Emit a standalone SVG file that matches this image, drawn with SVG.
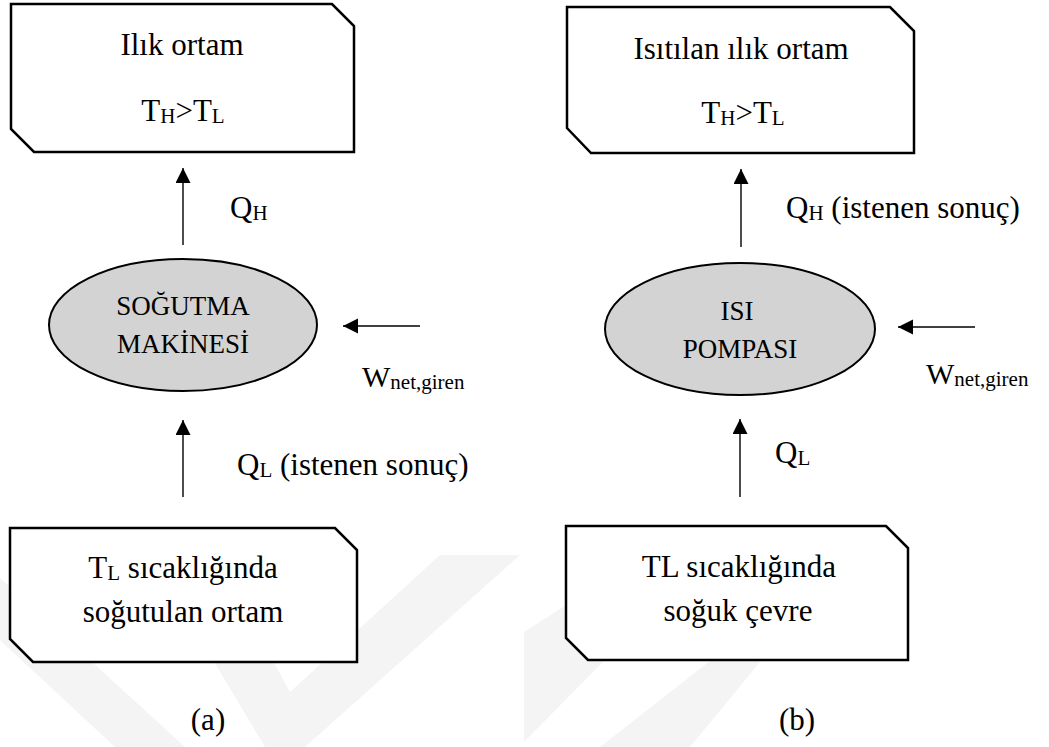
<svg xmlns="http://www.w3.org/2000/svg" width="1049" height="747" viewBox="0 0 1049 747">
<style>
  .t { font-size: 31px; }
  .e { font-size: 27px; }
  .w { font-size: 30px; }
  .sub { font-size: 21px; }
  .box { fill: #fff; stroke: #000; stroke-width: 2.5; stroke-linejoin: miter; }
  .ell { fill: #d3d3d3; stroke: #000; stroke-width: 2; }
  .arr { stroke: #000; stroke-width: 1.4; fill: none; marker-end: url(#ah); }
  .wm { fill: #f4f4f4; stroke: none; }
</style>
<defs>
  <marker id="ah" markerUnits="userSpaceOnUse" markerWidth="16" markerHeight="16" refX="15" refY="7.5" orient="auto">
    <path d="M0,0 L15,7.5 L0,15 Z" fill="#000"/>
  </marker>
</defs>
<rect width="1049" height="747" fill="#fff"/>
<g id="watermark">
  <polygon class="wm" points="0,578 0,640 115,747 185,747"/>
  <polygon class="wm" points="150,555 215,555 290,692 440,555 520,555 305,747 265,747"/>
  <polygon class="wm" points="524,632 640,558 705,558 524,742"/>
  <polygon class="wm" points="600,747 724,650 770,650 690,747"/>
</g>
<g id="connectors">
  <line class="arr" x1="183" y1="245" x2="183" y2="168"/>
  <line class="arr" x1="183" y1="497" x2="183" y2="420"/>
  <line class="arr" x1="420" y1="326" x2="343" y2="326"/>
  <line class="arr" x1="741" y1="247" x2="741" y2="169"/>
  <line class="arr" x1="740" y1="497" x2="740" y2="419"/>
  <line class="arr" x1="975" y1="327" x2="898" y2="327"/>
</g>
<g font-family="'Liberation Serif', 'Times New Roman', Tinos, 'DejaVu Serif', serif" fill="#000">
<g id="labels">
  <text class="t" x="230" y="218">Q<tspan class="sub" dy="2">H</tspan></text>
  <text class="t" x="786" y="218">Q<tspan class="sub" dy="2">H</tspan><tspan dy="-2"> (istenen sonuç)</tspan></text>
  <text class="w" x="362" y="387">W<tspan class="sub" dy="2">net,giren</tspan></text>
  <text class="w" x="926" y="384">W<tspan class="sub" dy="2">net,giren</tspan></text>
  <text class="t" x="237" y="475">Q<tspan class="sub" dy="2">L</tspan><tspan dy="-2"> (istenen sonuç)</tspan></text>
  <text class="t" x="775" y="463">Q<tspan class="sub" dy="2">L</tspan></text>
  <text class="t" x="208" y="730" text-anchor="middle">(a)</text>
  <text class="t" x="797" y="730" text-anchor="middle">(b)</text>
</g>
<g id="node-ilik-ortam">
  <path class="box" d="M11,4 H332 L354,26 V152 H34 L11,129 Z"/>
  <text class="t" x="182" y="55" text-anchor="middle">Ilık ortam</text>
  <text class="t" x="183" y="121" text-anchor="middle">T<tspan class="sub" dy="2">H</tspan><tspan dy="-2">&gt;T</tspan><tspan class="sub" dy="2">L</tspan></text>
</g>
<g id="node-sogutma">
  <ellipse class="ell" cx="183" cy="325" rx="134" ry="66"/>
  <text class="e" x="183" y="315" text-anchor="middle">SOĞUTMA</text>
  <text class="e" x="183" y="353" text-anchor="middle">MAKİNESİ</text>
</g>
<g id="node-sogutulan">
  <path class="box" d="M10,528 H335 L357,550 V662 H33 L10,639 Z"/>
  <text class="t" x="183" y="578" text-anchor="middle">T<tspan class="sub" dy="2">L</tspan><tspan dy="-2"> sıcaklığında</tspan></text>
  <text class="t" x="183" y="622" text-anchor="middle">soğutulan ortam</text>
</g>
<g id="node-isitilan">
  <path class="box" d="M567,7 H890 L914,31 V153 H591 L567,128 Z"/>
  <text class="t" x="741" y="59" text-anchor="middle">Isıtılan ılık ortam</text>
  <text class="t" x="743" y="123" text-anchor="middle">T<tspan class="sub" dy="2">H</tspan><tspan dy="-2">&gt;T</tspan><tspan class="sub" dy="2">L</tspan></text>
</g>
<g id="node-isi-pompasi">
  <ellipse class="ell" cx="740" cy="329" rx="135" ry="66"/>
  <text class="e" x="737" y="320" text-anchor="middle">ISI</text>
  <text class="e" x="740" y="358" text-anchor="middle">POMPASI</text>
</g>
<g id="node-soguk-cevre">
  <path class="box" d="M566,526 H886 L908,548 V660 H588 L566,638 Z"/>
  <text class="t" x="739" y="577" text-anchor="middle">TL sıcaklığında</text>
  <text class="t" x="738" y="621" text-anchor="middle">soğuk çevre</text>
</g>
</g>
</svg>
